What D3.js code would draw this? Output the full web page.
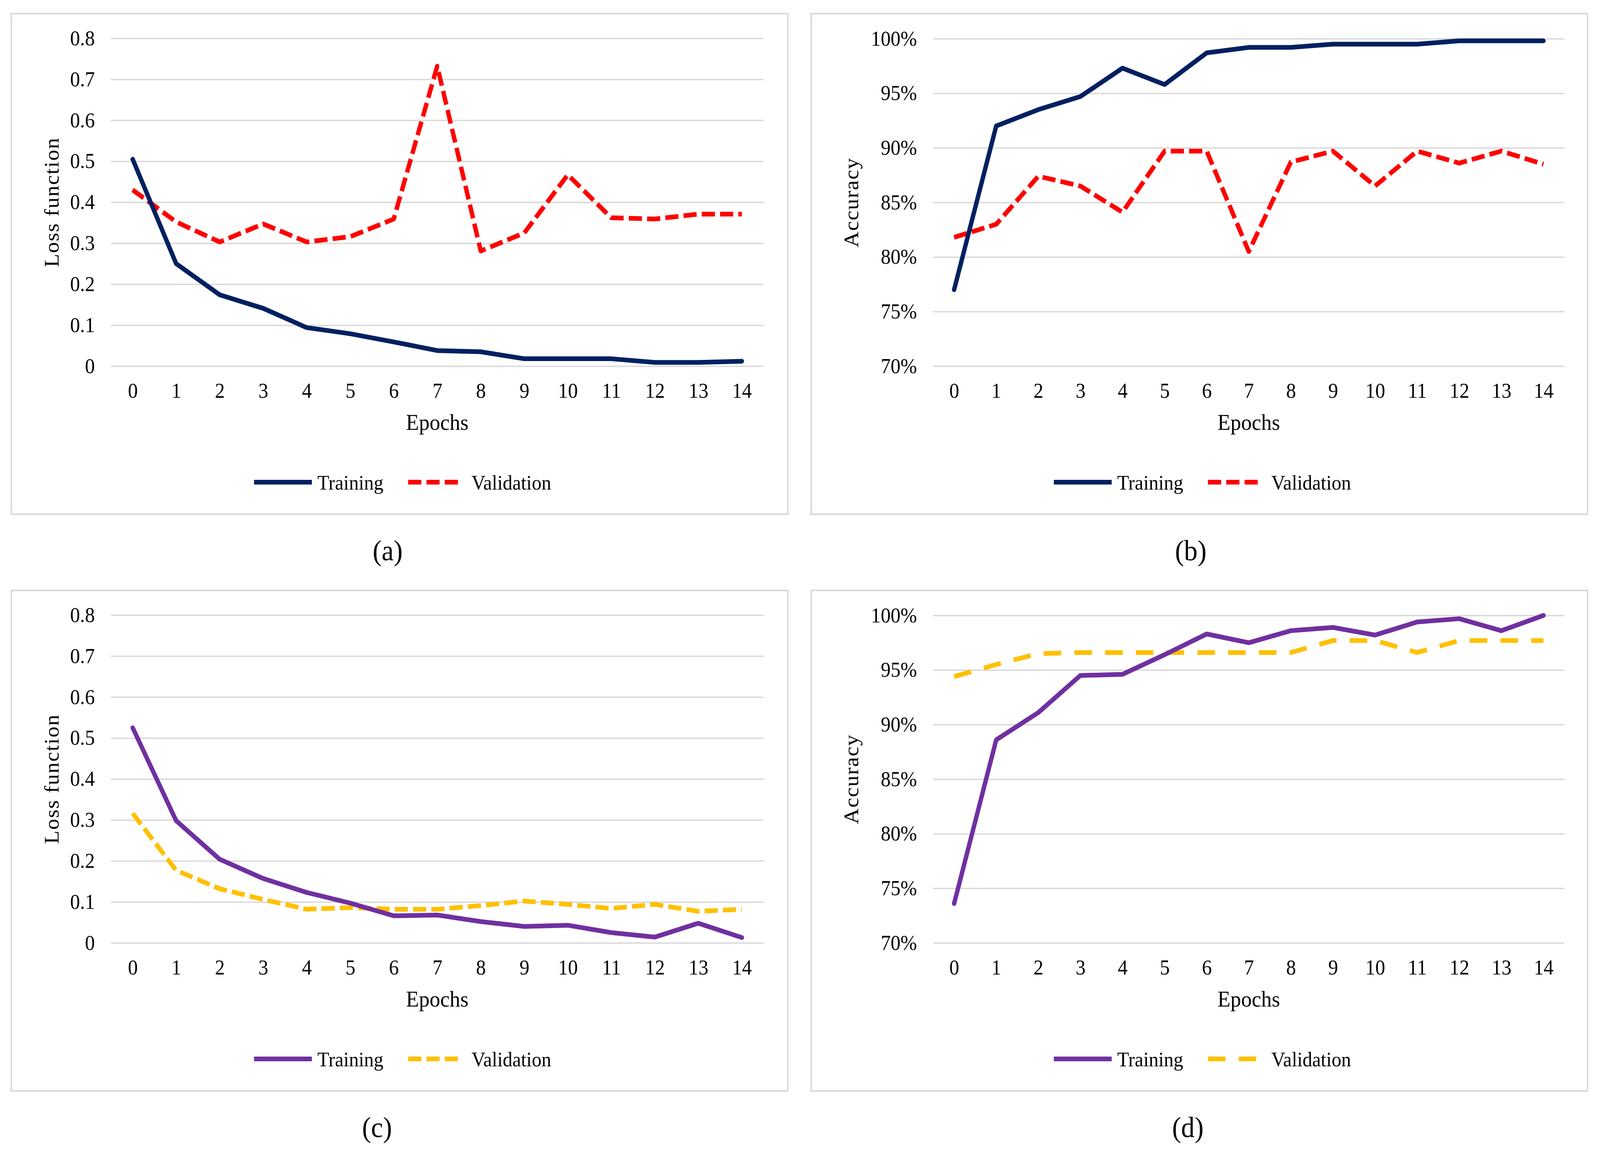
<!DOCTYPE html>
<html>
<head>
<meta charset="utf-8">
<script src="https://cdn.jsdelivr.net/npm/d3@7"></script>
<style>
    html, body { margin: 0; padding: 0; width: 100%; height: 100%; overflow: hidden; background: #ffffff; }
    #chart { width: 100vw; height: 100vh; }
    svg { display: block; width: 100%; height: 100%; }
</style>
</head>
<body>
<div id="chart"></div>
<script>
"use strict";

// Categories and tick labels
const epochs = [0, 1, 2, 3, 4, 5, 6, 7, 8, 9, 10, 11, 12, 13, 14];
const lossTicks = [0, 0.1, 0.2, 0.3, 0.4, 0.5, 0.6, 0.7, 0.8];
const accuracyTicks = [0.70, 0.75, 0.80, 0.85, 0.90, 0.95, 1.00];
const seriesNames = ["Training", "Validation"];
const captions = ["(a)", "(b)", "(c)", "(d)"];

// Values
const lossTrainA = [0.505, 0.250, 0.174, 0.141, 0.094, 0.079, 0.059, 0.038, 0.035, 0.018, 0.018, 0.018, 0.009, 0.009, 0.012];
const lossValA = [0.430, 0.352, 0.303, 0.347, 0.303, 0.316, 0.359, 0.732, 0.281, 0.325, 0.467, 0.362, 0.359, 0.371, 0.371];
const accTrainB = [0.770, 0.920, 0.935, 0.947, 0.973, 0.958, 0.987, 0.992, 0.992, 0.995, 0.995, 0.995, 0.998, 0.998, 0.998];
const accValB = [0.818, 0.830, 0.874, 0.865, 0.841, 0.897, 0.897, 0.805, 0.887, 0.897, 0.865, 0.897, 0.886, 0.897, 0.885];
const lossTrainC = [0.525, 0.298, 0.204, 0.157, 0.123, 0.097, 0.066, 0.068, 0.052, 0.040, 0.043, 0.025, 0.014, 0.048, 0.013];
const lossValC = [0.316, 0.177, 0.132, 0.106, 0.082, 0.086, 0.082, 0.082, 0.091, 0.102, 0.094, 0.084, 0.094, 0.077, 0.082];
const accTrainD = [0.736, 0.886, 0.911, 0.945, 0.946, 0.964, 0.983, 0.975, 0.986, 0.989, 0.982, 0.994, 0.997, 0.986, 1.000];
const accValD = [0.944, 0.955, 0.965, 0.966, 0.966, 0.966, 0.966, 0.966, 0.966, 0.977, 0.977, 0.966, 0.977, 0.977, 0.977];

const width = 4371, height = 2961;
const fontFamily = "'Liberation Serif', 'Times New Roman', serif";

// Stretch the figure over the whole window, whatever its size
const svg = d3.select("#chart").append("svg")
    .attr("viewBox", [0, 0, width, height])
    .attr("preserveAspectRatio", "none");

svg.append("rect").attr("width", width).attr("height", height).attr("fill", "#ffffff");

// Panel setup, one per sub-figure
const panels = [
    { x: 31, y: 35, kind: "loss", train: lossTrainA, val: lossValA, colors: ["#002060", "#ff0000"], dash: "36,14", caption: captions[0], captionX: 1028 },
    { x: 2216, y: 35, kind: "acc", train: accTrainB, val: accValB, colors: ["#002060", "#ff0000"], dash: "36,14", caption: captions[1], captionX: 1037 },
    { x: 31, y: 1511, kind: "loss", train: lossTrainC, val: lossValC, colors: ["#7030a0", "#ffc000"], dash: "36,14", caption: captions[2], captionX: 999 },
    { x: 2216, y: 1511, kind: "acc", train: accTrainD, val: accValD, colors: ["#7030a0", "#ffc000"], dash: "48,36", caption: captions[3], captionX: 1029 }
];

panels.forEach(DrawPanel);

function DrawPanel(p) {
    const panelW = 2121, panelH = 1281;
    const plot = p.kind === "loss"
        ? { left: 272, right: 2055, top: 63, bottom: 902 }
        : { left: 333, right: 2058, top: 64, bottom: 902 };

    const g = svg.append("g").attr("transform", `translate(${p.x},${p.y})`);

    // Outer frame
    g.append("rect")
        .attr("width", panelW)
        .attr("height", panelH)
        .attr("fill", "#ffffff")
        .attr("stroke", "#d9d9d9")
        .attr("stroke-width", 4);

    const xScale = d3.scalePoint()
        .domain(epochs)
        .range([plot.left, plot.right])
        .padding(0.5);

    const ticks = p.kind === "loss" ? lossTicks : accuracyTicks;
    const yScale = d3.scaleLinear()
        .domain(d3.extent(ticks))
        .range([plot.bottom, plot.top]);

    const yFormat = p.kind === "loss" ? (d => d === 0 ? "0" : d3.format(".1f")(d)) : d3.format(".0%");

    // Y axis with horizontal gridlines
    g.append("g")
        .attr("transform", `translate(${plot.left},0)`)
        .call(d3.axisLeft(yScale).tickValues(ticks).tickFormat(yFormat).tickSize(0).tickPadding(44))
        .call(s => s.select(".domain").remove())
        .call(s => s.selectAll(".tick line").clone()
            .attr("x2", plot.right - plot.left)
            .attr("stroke", "#d9d9d9")
            .attr("stroke-width", 3.5))
        .call(s => s.selectAll("text")
            .attr("font-family", fontFamily)
            .attr("font-size", 54)
            .attr("fill", "#000000"));

    // X axis (category labels only)
    g.append("g")
        .attr("transform", `translate(0,${plot.bottom})`)
        .call(d3.axisBottom(xScale).tickSize(0))
        .call(s => s.select(".domain").remove())
        .call(s => s.selectAll("text")
            .attr("y", 62)
            .attr("dy", "0.35em")
            .attr("font-family", fontFamily)
            .attr("font-size", 54)
            .attr("fill", "#000000"));

    // Axis titles
    g.append("text")
        .attr("x", (plot.left + plot.right) / 2)
        .attr("y", 1045)
        .attr("dy", "0.35em")
        .attr("text-anchor", "middle")
        .attr("font-family", fontFamily)
        .attr("font-size", 58)
        .text("Epochs");

    g.append("text")
        .attr("transform", `translate(109,${(plot.top + plot.bottom) / 2}) rotate(-90)`)
        .attr("dy", "0.35em")
        .attr("text-anchor", "middle")
        .attr("font-family", fontFamily)
        .attr("font-size", 56)
        .attr("letter-spacing", 2)
        .text(p.kind === "loss" ? "Loss function" : "Accuracy");

    const line = d3.line()
        .x((d, i) => xScale(epochs[i]))
        .y(d => yScale(d));

    // Training: solid, Validation: dashed
    const series = [
        { values: p.train, color: p.colors[0], dash: null },
        { values: p.val, color: p.colors[1], dash: p.dash }
    ];

    // Draw validation first so training sits on top, as in the picture
    [series[1], series[0]].forEach(s => {
        g.append("path")
            .datum(s.values)
            .attr("fill", "none")
            .attr("stroke", s.color)
            .attr("stroke-width", 12)
            .attr("stroke-linejoin", "round")
            .attr("stroke-linecap", s.dash ? "butt" : "round")
            .attr("stroke-dasharray", s.dash)
            .attr("d", line);
    });

    // Legend
    const legendY = 1199;
    const legendItems = [
        { x0: 663, x1: 821, tx: 836 },
        { x0: 1084, x1: 1230, tx: 1257 }
    ];
    legendItems.forEach((item, i) => {
        g.append("line")
            .attr("x1", item.x0)
            .attr("x2", item.x1)
            .attr("y1", legendY)
            .attr("y2", legendY)
            .attr("stroke", series[i].color)
            .attr("stroke-width", 12)
            .attr("stroke-dasharray", series[i].dash);
        g.append("text")
            .attr("x", item.tx)
            .attr("y", legendY)
            .attr("dy", "0.35em")
            .attr("font-family", fontFamily)
            .attr("font-size", 53)
            .text(seriesNames[i]);
    });

    // Sub-figure caption under the frame
    g.append("text")
        .attr("x", p.captionX)
        .attr("y", 1373)
        .attr("dy", "0.35em")
        .attr("text-anchor", "middle")
        .attr("font-family", fontFamily)
        .attr("font-size", 74)
        .text(p.caption);
}
</script>
</body>
</html>
